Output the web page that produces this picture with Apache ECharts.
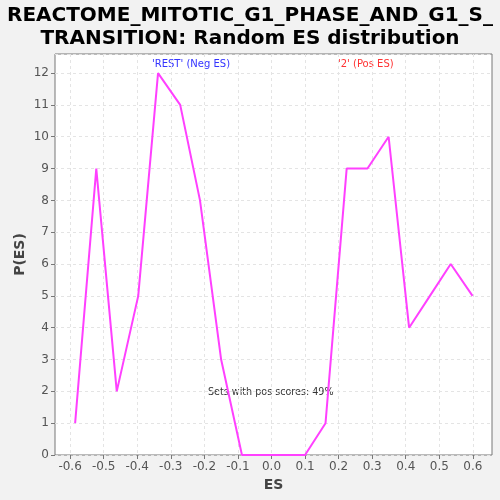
<!DOCTYPE html>
<html>
<head>
<meta charset="utf-8">
<script src="https://cdn.jsdelivr.net/npm/echarts@6/dist/echarts.min.js"></script>
<style>
  html, body { margin: 0; padding: 0; background: #f2f2f2; }
  #main { width: 500px; height: 500px; }
</style>
</head>
<body>
<div id="main"></div>
<script>
var esValues = [-0.585, -0.522, -0.461, -0.397, -0.338, -0.272, -0.213, -0.150, -0.088, -0.025,
                0.037, 0.100, 0.161, 0.224, 0.286, 0.349, 0.410, 0.472, 0.534, 0.599];
var pValues = [1, 9, 2, 5, 12, 11, 8, 3, 0, 0,
               0, 0, 1, 9, 9, 10, 4, 5, 6, 5];
var xTicks = [-0.6, -0.5, -0.4, -0.3, -0.2, -0.1, 0.0, 0.1, 0.2, 0.3, 0.4, 0.5, 0.6];

var myChart = echarts.init(document.getElementById('main'));
var font = 'DejaVu Sans';

var option = {
    animation: false,
    backgroundColor: '#f2f2f2',
    title: {
        text: 'REACTOME_MITOTIC_G1_PHASE_AND_G1_S_\nTRANSITION: Random ES distribution',
        left: 'center',
        top: -1,
        textStyle: { fontFamily: font, fontWeight: 'bold', fontSize: 20, lineHeight: 23, color: '#000' }
    },
    grid: { left: 55, right: 8, top: 54, bottom: 45, show: true, backgroundColor: '#fff', borderColor: '#777', borderWidth: 1 },
    xAxis: {
        type: 'value',
        min: -0.645,
        max: 0.657,
        name: 'ES',
        nameLocation: 'middle',
        nameGap: 23,
        nameMoveOverlap: false,
        nameTextStyle: { fontFamily: font, fontWeight: 'bold', fontSize: 14, color: '#444' },
        axisLine: { show: false, onZero: false },
        axisTick: { show: true, length: 4, lineStyle: { color: '#777' }, customValues: xTicks },
        axisLabel: { fontFamily: font, fontSize: 12, color: '#555', margin: 6, customValues: xTicks,
            formatter: function (v) { return v.toFixed(1); } },
        splitLine: { show: true, lineStyle: { color: '#e4e4e4', type: [3, 3] } }
    },
    yAxis: {
        type: 'value',
        min: 0,
        max: 12.6,
        interval: 1,
        name: 'P(ES)',
        nameLocation: 'middle',
        nameGap: 28,
        nameMoveOverlap: false,
        nameTextStyle: { fontFamily: font, fontWeight: 'bold', fontSize: 14, color: '#444' },
        axisLine: { show: false, onZero: false },
        axisTick: { show: true, length: 4, lineStyle: { color: '#777' } },
        axisLabel: { fontFamily: font, fontSize: 12, color: '#555', margin: 6, showMaxLabel: false },
        splitLine: { show: true, lineStyle: { color: '#e4e4e4', type: [3, 3] } }
    },
    series: [{
        type: 'line',
        data: esValues.map(function (x, i) { return [x, pValues[i]]; }),
        symbol: 'none',
        lineStyle: { color: '#ff40ff', width: 2 },
        z: 5
    }],
    graphic: [
        { type: 'text', left: 152, top: 59, style: { text: "'REST' (Neg ES)", fill: '#3333ff', fontFamily: font, fontSize: 10 } },
        { type: 'text', left: 338, top: 59, style: { text: "'2' (Pos ES)", fill: '#ff3333', fontFamily: font, fontSize: 10 } },
        { type: 'text', left: 208, top: 387, style: { text: 'Sets with pos scores: 49%', fill: '#333', fontFamily: font, fontSize: 9.6 } }
    ]
};
myChart.setOption(option);
</script>
</body>
</html>
